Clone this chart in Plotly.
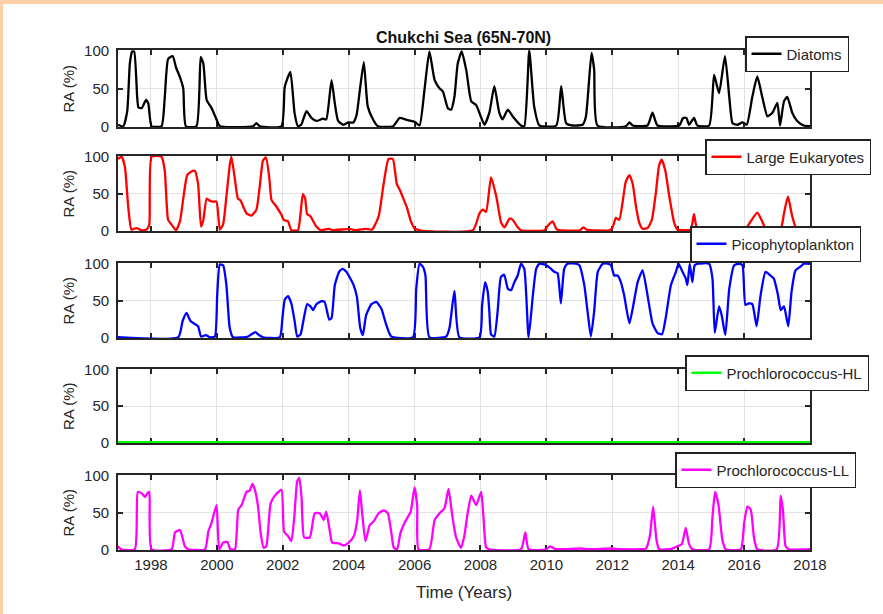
import plotly.graph_objects as go

# ---------------- data (decimal years, relative abundance %) ----------------
dia_t = [1997.00, 1997.16, 1997.28, 1997.36, 1997.43, 1997.49, 1997.58, 1997.62, 1997.72, 1997.85, 1997.92,
         1998.02, 1998.32, 1998.42, 1998.52, 1998.66, 1998.76, 1998.88, 1998.98, 1999.06, 1999.38, 1999.51,
         1999.59, 1999.69, 1999.84, 1999.99, 2000.09, 2001.10, 2001.20, 2001.30, 2001.96, 2002.06, 2002.23,
         2002.36, 2002.46, 2002.56, 2002.72, 2002.87, 2003.02, 2003.22, 2003.32, 2003.48, 2003.58, 2003.68,
         2003.84, 2003.99, 2004.14, 2004.24, 2004.34, 2004.46, 2004.58, 2004.74, 2004.89, 2005.35, 2005.55,
         2005.80, 2006.00, 2006.15, 2006.30, 2006.45, 2006.61, 2006.76, 2006.86, 2007.01, 2007.11, 2007.21,
         2007.31, 2007.43, 2007.57, 2007.72, 2007.87, 2008.00, 2008.12, 2008.27, 2008.42, 2008.57, 2008.67,
         2008.83, 2008.98, 2009.23, 2009.33, 2009.48, 2009.63, 2009.79, 2010.30, 2010.45, 2010.60, 2010.80,
         2011.10, 2011.20, 2011.37, 2011.45, 2011.55, 2012.41, 2012.52, 2012.62, 2013.07, 2013.22, 2013.37,
         2014.03, 2014.15, 2014.25, 2014.33, 2014.48, 2014.58, 2014.94, 2015.09, 2015.24, 2015.42, 2015.55,
         2015.65, 2015.80, 2015.95, 2016.08, 2016.25, 2016.40, 2016.55, 2016.71, 2016.86, 2017.01, 2017.09,
         2017.21, 2017.31, 2017.46, 2017.61, 2017.81, 2018.00]
dia_v = [2, 0, 20, 83, 99, 99, 40, 25, 24, 35, 30,
         0, 0, 39, 89, 93, 78, 65, 50, 0, 0, 92,
         83, 35, 24, 9, 0, 0, 4, 0, 0, 52, 72,
         17, 0, 2, 20, 11, 7, 10, 9, 61, 30, 7,
         2, 5, 5, 15, 48, 85, 26, 9, 0, 0, 11,
         8, 6, 1, 48, 99, 61, 50, 46, 24, 22, 39,
         83, 99, 74, 33, 28, 14, 2, 18, 53, 18, 9,
         22, 13, 1, 0, 100, 26, 1, 1, 53, 4, 1,
         2, 13, 97, 75, 1, 0, 5, 1, 1, 18, 1,
         1, 11, 11, 2, 11, 1, 1, 68, 44, 93, 39,
         4, 2, 5, 2, 39, 66, 39, 13, 18, 31, 1,
         33, 39, 18, 7, 1, 0]

leuk_t = [1997.00, 1997.11, 1997.21, 1997.31, 1997.41, 1997.56, 1997.72, 1997.87, 1997.95, 1998.02, 1998.32,
          1998.42, 1998.52, 1998.62, 1998.76, 1998.88, 1998.98, 1999.10, 1999.23, 1999.33, 1999.43, 1999.52,
          1999.59, 1999.69, 1999.79, 1999.89, 1999.99, 2000.09, 2000.19, 2000.29, 2000.39, 2000.44, 2000.54,
          2000.64, 2000.71, 2000.90, 2001.05, 2001.20, 2001.30, 2001.40, 2001.49, 2001.59, 2001.66, 2001.81,
          2001.96, 2002.03, 2002.16, 2002.26, 2002.46, 2002.54, 2002.61, 2002.68, 2002.74, 2002.84, 2003.02,
          2003.16, 2003.41, 2003.51, 2004.02, 2004.22, 2004.51, 2004.71, 2004.91, 2005.06, 2005.21, 2005.34,
          2005.46, 2005.56, 2005.66, 2005.76, 2005.89, 2005.99, 2006.15, 2007.77, 2007.97, 2008.07, 2008.17,
          2008.32, 2008.48, 2008.63, 2008.73, 2008.88, 2008.98, 2009.13, 2009.23, 2009.94, 2010.04, 2010.19,
          2010.32, 2011.02, 2011.12, 2011.22, 2011.91, 2012.01, 2012.11, 2012.21, 2012.31, 2012.41, 2012.52,
          2012.62, 2012.72, 2012.82, 2012.92, 2013.07, 2013.20, 2013.32, 2013.42, 2013.50, 2013.61, 2013.73,
          2013.88, 2013.98, 2014.38, 2014.48, 2014.58, 2015.34, 2015.44, 2015.54, 2015.95, 2016.05, 2016.20,
          2016.40, 2016.55, 2016.66, 2017.11, 2017.21, 2017.33, 2017.46, 2017.58, 2017.81, 2018.00]
leuk_v = [97, 100, 86, 32, 1, 3, 0, 1, 8, 100, 100,
          81, 14, 8, 0, 12, 43, 75, 80, 81, 63, 5,
          14, 43, 40, 39, 39, 1, 8, 46, 88, 100, 72,
          43, 41, 23, 20, 28, 59, 95, 99, 72, 41, 32,
          21, 14, 12, 0, 0, 23, 49, 43, 22, 19, 5,
          0, 2, 0, 2, 0, 2, 1, 19, 63, 97, 97,
          63, 54, 43, 32, 12, 3, 0, 0, 23, 28, 25,
          72, 46, 10, 4, 16, 14, 4, 0, 0, 6, 12,
          1, 0, 4, 1, 0, 4, 17, 14, 37, 66, 75,
          63, 32, 10, 2, 3, 14, 50, 88, 96, 81, 46,
          10, 1, 1, 22, 2, 1, 3, 0, 1, 2, 12,
          24, 12, 2, 2, 23, 46, 19, 3, 0, 0]

pico_t = [1997.00, 1998.83, 1998.96, 1999.08, 1999.20, 1999.33, 1999.43, 1999.52, 1999.67, 1999.79, 1999.94,
          2000.01, 2000.09, 2000.19, 2000.29, 2000.39, 2000.49, 2000.95, 2001.05, 2001.17, 2001.28, 2001.40,
          2001.91, 2001.99, 2002.06, 2002.16, 2002.26, 2002.36, 2002.44, 2002.54, 2002.64, 2002.74, 2002.84,
          2002.92, 2003.02, 2003.17, 2003.27, 2003.41, 2003.48, 2003.58, 2003.71, 2003.81, 2003.93, 2004.05,
          2004.15, 2004.25, 2004.35, 2004.43, 2004.53, 2004.69, 2004.84, 2004.99, 2005.14, 2005.29, 2005.95,
          2006.05, 2006.15, 2006.25, 2006.33, 2006.45, 2006.96, 2007.06, 2007.21, 2007.36, 2007.97, 2008.05,
          2008.14, 2008.22, 2008.27, 2008.32, 2008.42, 2008.52, 2008.62, 2008.72, 2008.83, 2008.93, 2009.03,
          2009.13, 2009.23, 2009.33, 2009.46, 2009.59, 2009.69, 2009.79, 2010.00, 2010.14, 2010.24, 2010.34,
          2010.44, 2010.54, 2010.64, 2010.90, 2011.00, 2011.15, 2011.25, 2011.35, 2011.45, 2011.56, 2011.71,
          2011.86, 2011.96, 2012.06, 2012.16, 2012.26, 2012.36, 2012.52, 2012.64, 2012.77, 2012.92, 2013.07,
          2013.22, 2013.37, 2013.51, 2013.62, 2013.78, 2013.93, 2014.01, 2014.13, 2014.23, 2014.28, 2014.35,
          2014.43, 2014.50, 2014.60, 2014.94, 2015.04, 2015.11, 2015.24, 2015.32, 2015.43, 2015.55, 2015.70,
          2015.85, 2015.95, 2016.04, 2016.14, 2016.25, 2016.38, 2016.50, 2016.65, 2016.80, 2016.90, 2017.03,
          2017.11, 2017.21, 2017.34, 2017.44, 2017.56, 2017.71, 2017.81, 2018.00]
pico_v = [0, 0, 22, 33, 22, 18, 15, 1, 3, 0, 1,
          57, 99, 98, 71, 13, 0, 1, 4, 7, 3, 0,
          0, 26, 51, 56, 46, 22, 1, 4, 26, 45, 42,
          37, 45, 49, 48, 24, 26, 71, 89, 93, 89, 80,
          71, 55, 13, 3, 30, 45, 48, 39, 17, 1, 0,
          66, 100, 96, 84, 0, 1, 13, 63, 0, 0, 44,
          75, 62, 35, 4, 1, 35, 82, 85, 66, 64, 75,
          84, 100, 93, 0, 57, 93, 100, 98, 93, 89, 87,
          46, 93, 100, 100, 98, 71, 35, 1, 35, 89, 100,
          100, 98, 84, 84, 75, 57, 19, 44, 75, 91, 57,
          19, 6, 4, 26, 71, 89, 100, 89, 80, 71, 100,
          75, 98, 100, 100, 80, 6, 42, 30, 3, 66, 98,
          100, 98, 44, 46, 45, 15, 57, 89, 84, 80, 57,
          37, 42, 15, 62, 91, 96, 100, 100]

phl_t = [1997.0, 2018.0]
phl_v = [0, 0]

pll_t = [1997.00, 1997.10, 1997.51, 1997.60, 1997.72, 1997.82, 1997.89, 1997.95, 1998.02, 1998.63, 1998.73,
         1998.88, 1999.03, 1999.13, 1999.64, 1999.74, 1999.84, 1999.99, 2000.07, 2000.19, 2000.32, 2000.41,
         2000.55, 2000.65, 2000.75, 2000.90, 2001.00, 2001.08, 2001.16, 2001.25, 2001.33, 2001.42, 2001.50,
         2001.63, 2001.76, 2001.96, 2002.04, 2002.16, 2002.26, 2002.35, 2002.44, 2002.50, 2002.57, 2002.65,
         2002.82, 2002.97, 2003.12, 2003.24, 2003.32, 2003.42, 2003.50, 2003.70, 2003.85, 2004.00, 2004.16,
         2004.26, 2004.34, 2004.41, 2004.51, 2004.64, 2004.76, 2004.91, 2005.07, 2005.19, 2005.29, 2005.37,
         2005.47, 2005.57, 2005.72, 2005.88, 2006.00, 2006.08, 2006.12, 2006.45, 2006.61, 2006.76, 2006.91,
         2007.03, 2007.14, 2007.26, 2007.41, 2007.51, 2007.61, 2007.72, 2007.87, 2008.02, 2008.09, 2008.17,
         2008.27, 2009.23, 2009.36, 2009.46, 2010.00, 2010.11, 2010.25, 2010.40, 2011.10, 2011.25, 2012.01,
         2012.21, 2012.90, 2013.02, 2013.14, 2013.24, 2013.34, 2013.42, 2013.82, 2013.98, 2014.11, 2014.23,
         2014.33, 2014.43, 2014.94, 2015.04, 2015.12, 2015.22, 2015.34, 2015.44, 2015.90, 2016.00, 2016.10,
         2016.20, 2016.30, 2016.40, 2016.99, 2017.11, 2017.18, 2017.26, 2017.36, 2018.00]
pll_v = [4, 0, 0, 78, 76, 71, 76, 78, 0, 0, 23,
         26, 4, 0, 0, 24, 36, 60, 0, 9, 10, 0,
         0, 54, 60, 78, 80, 89, 80, 58, 22, 2, 4,
         62, 73, 81, 24, 18, 11, 44, 93, 97, 71, 16,
         16, 49, 49, 40, 51, 27, 9, 8, 5, 9, 18,
         40, 80, 49, 11, 33, 38, 49, 53, 49, 24, 2,
         0, 22, 38, 51, 84, 58, 0, 0, 40, 49, 56,
         82, 47, 16, 2, 18, 49, 73, 60, 78, 44, 3,
         0, 0, 23, 0, 0, 4, 1, 0, 1, 0, 1,
         0, 0, 1, 18, 58, 13, 0, 1, 4, 7, 29,
         7, 0, 0, 44, 78, 61, 13, 0, 0, 35, 58,
         54, 16, 0, 0, 73, 53, 4, 0, 0]

names = ["Diatoms", "Large Eukaryotes", "Picophytoplankton", "Prochlorococcus-HL", "Prochlorococcus-LL"]
series_t = [dia_t, leuk_t, pico_t, phl_t, pll_t]
series_v = [dia_v, leuk_v, pico_v, phl_v, pll_v]
colors = ["#000000", "#ff0000", "#0000ff", "#00ff00", "#ff00ff"]

year_ticks = [1998, 2000, 2002, 2004, 2006, 2008, 2010, 2012, 2014, 2016, 2018]
y_ticks = [0, 50, 100]

# ---------------- layout geometry ----------------
W, H = 883, 614
X0, X1 = 118 / W, 810 / W
panels_px = [(50, 127), (156, 231), (263, 338), (369, 443), (475, 550)]
# legend box: left edge x, vertical centre y (pixels)
legend_px = [(745, 54), (705, 157), (690, 244), (685, 373), (675, 470)]

FONT = "Liberation Sans, Arial, sans-serif"
AX = "#262626"

fig = go.Figure()
layout = dict(
    width=W, height=H,
    margin=dict(l=0, r=0, t=0, b=0, pad=0, autoexpand=False),
    paper_bgcolor="#fccfa6",
    plot_bgcolor="#ffffff",
    font=dict(family=FONT, size=15, color=AX),
    showlegend=True,
)

for i in range(5):
    n = "" if i == 0 else str(i + 1)
    top, bot = panels_px[i]
    leg = "legend" if i == 0 else "legend" + str(i + 1)
    fig.add_trace(go.Scatter(
        x=series_t[i], y=series_v[i], mode="lines", name=names[i],
        line=dict(color=colors[i], width=2.3, shape="spline", smoothing=0.5),
        xaxis="x" + n, yaxis="y" + n, legend=leg,
    ))
    layout["xaxis" + n] = dict(
        domain=[X0, X1], range=[1997, 2018], anchor="y" + n,
        tickvals=year_ticks, ticktext=[str(v) for v in year_ticks],
        showticklabels=(i == 4),
        ticks="inside", ticklen=5, tickwidth=1.5, tickcolor=AX,
        showline=True, linecolor=AX, linewidth=1.8, mirror="ticks",
        showgrid=True, gridcolor="#e3e3e3", gridwidth=1,
        zeroline=False, layer="below traces",
        tickfont=dict(size=15, color=AX),
    )
    layout["yaxis" + n] = dict(
        domain=[1 - bot / H, 1 - top / H], range=[-1, 101], anchor="x" + n,
        tickvals=y_ticks, ticktext=[str(v) for v in y_ticks],
        ticks="inside", ticklen=5, tickwidth=1.5, tickcolor=AX,
        showline=True, linecolor=AX, linewidth=1.8, mirror="ticks",
        showgrid=True, gridcolor="#e3e3e3", gridwidth=1,
        zeroline=False, layer="below traces",
        tickfont=dict(size=15, color=AX), ticklabelstandoff=4,
    )
    lx, ly = legend_px[i]
    layout[leg] = dict(
        x=lx / W, y=1 - ly / H, xanchor="left", yanchor="middle",
        bgcolor="#ffffff", bordercolor="#222222", borderwidth=1.5,
        font=dict(size=15, color=AX), itemwidth=30,
        tracegroupgap=0,
    )

annotations = [dict(
    text="<b>Chukchi Sea (65N-70N)</b>", x=464 / W, y=1 - 37 / H,
    xref="paper", yref="paper", showarrow=False,
    font=dict(size=16, color="#111111"), xanchor="center", yanchor="middle",
)]
for top, bot in panels_px:
    annotations.append(dict(
        text="RA (%)", x=68 / W, y=1 - (top + bot) / 2 / H,
        xref="paper", yref="paper", showarrow=False, textangle=-90,
        font=dict(size=15, color=AX), xanchor="center", yanchor="middle",
    ))
annotations.append(dict(
    text="Time (Years)", x=464 / W, y=1 - 592 / H,
    xref="paper", yref="paper", showarrow=False,
    font=dict(size=17, color=AX), xanchor="center", yanchor="middle",
))
layout["annotations"] = annotations
layout["shapes"] = [dict(
    type="rect", xref="paper", yref="paper", x0=3 / W, x1=1, y0=0, y1=1 - 4 / H,
    fillcolor="#ffffff", line=dict(width=0), layer="below",
)]

fig.update_layout(**layout)
fig.write_html("out.html")
